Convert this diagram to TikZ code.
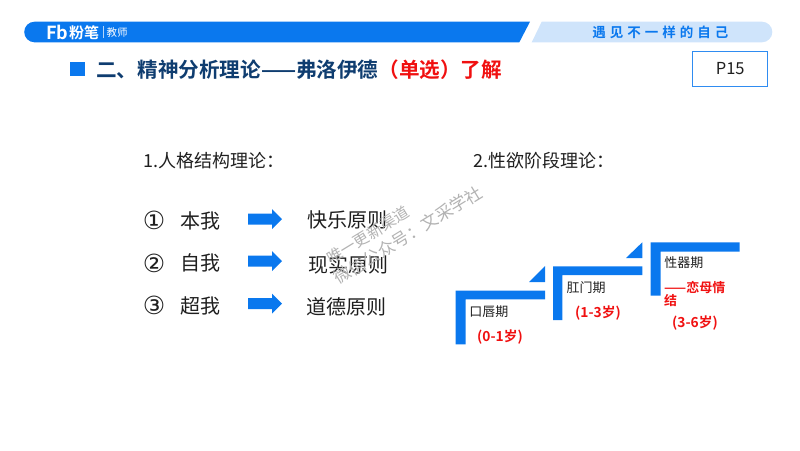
\documentclass[tikz,border=0pt]{standalone}
\usepackage{fontspec}
\setmainfont{Noto Sans CJK SC}
\newfontfamily\cjkb{Noto Sans CJK SC Bold}
\newfontfamily\djv{DejaVu Sans}
\definecolor{fbblue}{HTML}{0A78EE}
\definecolor{fblight}{HTML}{CFE4FB}
\definecolor{navy}{HTML}{0F3D70}
\definecolor{txt}{HTML}{1F1F1F}
\definecolor{redt}{HTML}{F01010}
\tikzset{
  fz/.style={font=\fontsize{#1}{#1}\selectfont},
  lab/.style={text=txt,inner sep=0pt,anchor=center,fz=20},
  head/.style={text=txt,inner sep=0pt,anchor=west,fz=18},
  small/.style={text=txt,inner sep=0pt,anchor=center,fz=13},
  redb/.style={text=redt,inner sep=0pt,anchor=center,font=\fontsize{13}{13}\selectfont\cjkb},
  redage/.style={redb,font=\fontsize{13.8}{13.8}\selectfont\cjkb},
  barr/.style={fill=fbblue,draw=none},
  wm/.style={text=black!30,inner sep=0pt,rotate=31.5}
}
\begin{document}
\begin{tikzpicture}[x=1pt,y=-1pt]
\useasboundingbox (0,0) rectangle (800,450);
% header
\fill[fbblue] (34.5,21.7) -- (530,21.7) -- (519.3,42.3) -- (34.5,42.3) arc[start angle=90,end angle=270,radius=10.3] -- cycle;
\fill[fblight] (541.7,21.7) -- (762,21.7) arc[start angle=-90,end angle=90,radius=10.3] -- (531.7,42.3) -- cycle;
\node[inner sep=0pt,text=white,font=\fontsize{18}{18}\selectfont\cjkb] (logo) at (57.5,32) {Fb};
\node[inner sep=0pt,text=white,font=\fontsize{15}{15}\selectfont\cjkb] (brand) at (84,32.3) {粉笔};
\fill[white!70!fbblue] (102.5,26) rectangle (103.2,38);
\node[inner sep=0pt,text=white,fz=10.5] (role) at (117.2,33) {教师};
\node[inner sep=0pt,text=fbblue,font=\fontsize{13.5}{13.5}\selectfont\cjkb] (slogan) at (660.3,32.3) {遇\hspace{4pt}见\hspace{4pt}不\hspace{4pt}一\hspace{4pt}样\hspace{4pt}的\hspace{4pt}自\hspace{4pt}己};
% title
\fill[fbblue] (70.3,62.3) rectangle (84.7,76.3);
\node[inner sep=0pt,anchor=west,text=navy,font=\fontsize{20.6}{20.6}\selectfont\cjkb] (title) at (96,70) {二、精神分析理论——弗洛伊德\textcolor{redt}{（单选）了解}};
\node[draw=fbblue!85,line width=1.3pt,minimum width=75pt,minimum height=34.6pt,inner sep=0pt,text=txt,fz=16.5] (page) at (730.2,69) {P15};
% left
\node[head] (h1) at (143,160.5) {1.人格结构理论：};
\node[head] (h2) at (473.5,160.5) {2.性欲阶段理论：};
\foreach \yy/\ry/\n/\ca/\cb/\cc/\xc in {220.5/220/1/①/本我/快乐原则/347,263/265/2/②/自我/现实原则/348.5,305.5/307/3/③/超我/道德原则/346.5}{
  \node[lab,font=\fontsize{25}{25}\selectfont\djv] (n\n) at (154,\yy) {\ca};
  \node[lab] (w\n) at (200,\yy) {\cb};
  \node[lab] (r\n) at (\xc,\ry) {\cc};
}
\foreach \yy in {219,261,303.7}{
  \fill[fbblue] (248,\yy-5.5) -- (272,\yy-5.5) -- (272,\yy-10) -- (282,\yy) -- (272,\yy+10) -- (272,\yy+5.5) -- (248,\yy+5.5) -- cycle;
}
% watermark
\node[wm,font=\fontsize{15.5}{15.5}\selectfont] (wm1) at (368,235) {唯一更新渠道};
\node[wm,font=\fontsize{17}{17}\selectfont] (wm2) at (408,235) {微信公众号：文采学社};
% steps
\fill[barr] (455.7,290.7) -- (545,290.7) -- (545,299.3) -- (465.7,299.3) -- (465.7,344.3) -- (455.7,344.3) -- cycle;
\fill[barr] (529,282) -- (545,266) -- (545,282) -- cycle;
\fill[barr] (553,266.3) -- (642.3,266.3) -- (642.3,275) -- (562.3,275) -- (562.3,320) -- (553,320) -- cycle;
\fill[barr] (626,258) -- (642.3,242.3) -- (642.3,258) -- cycle;
\fill[barr] (650.7,242.3) -- (739.7,242.3) -- (739.7,251.7) -- (660.7,251.7) -- (660.7,295.7) -- (650.7,295.7) -- cycle;
\node[small] (s1) at (488.8,311.7) {口唇期};
\node[redage] (a1) at (500,336.7) {(0-1岁)};
\node[small] (s2) at (586,288) {肛门期};
\node[redage] (a2) at (598,312.7) {(1-3岁)};
\node[small] (s3) at (683.8,263) {性器期};
\node[redb,anchor=west] (d3) at (664,287) {——恋母情};
\node[redb,anchor=west] (d4) at (664,301) {结};
\node[redage] (a3) at (695,323) {(3-6岁)};
\end{tikzpicture}
\end{document}
